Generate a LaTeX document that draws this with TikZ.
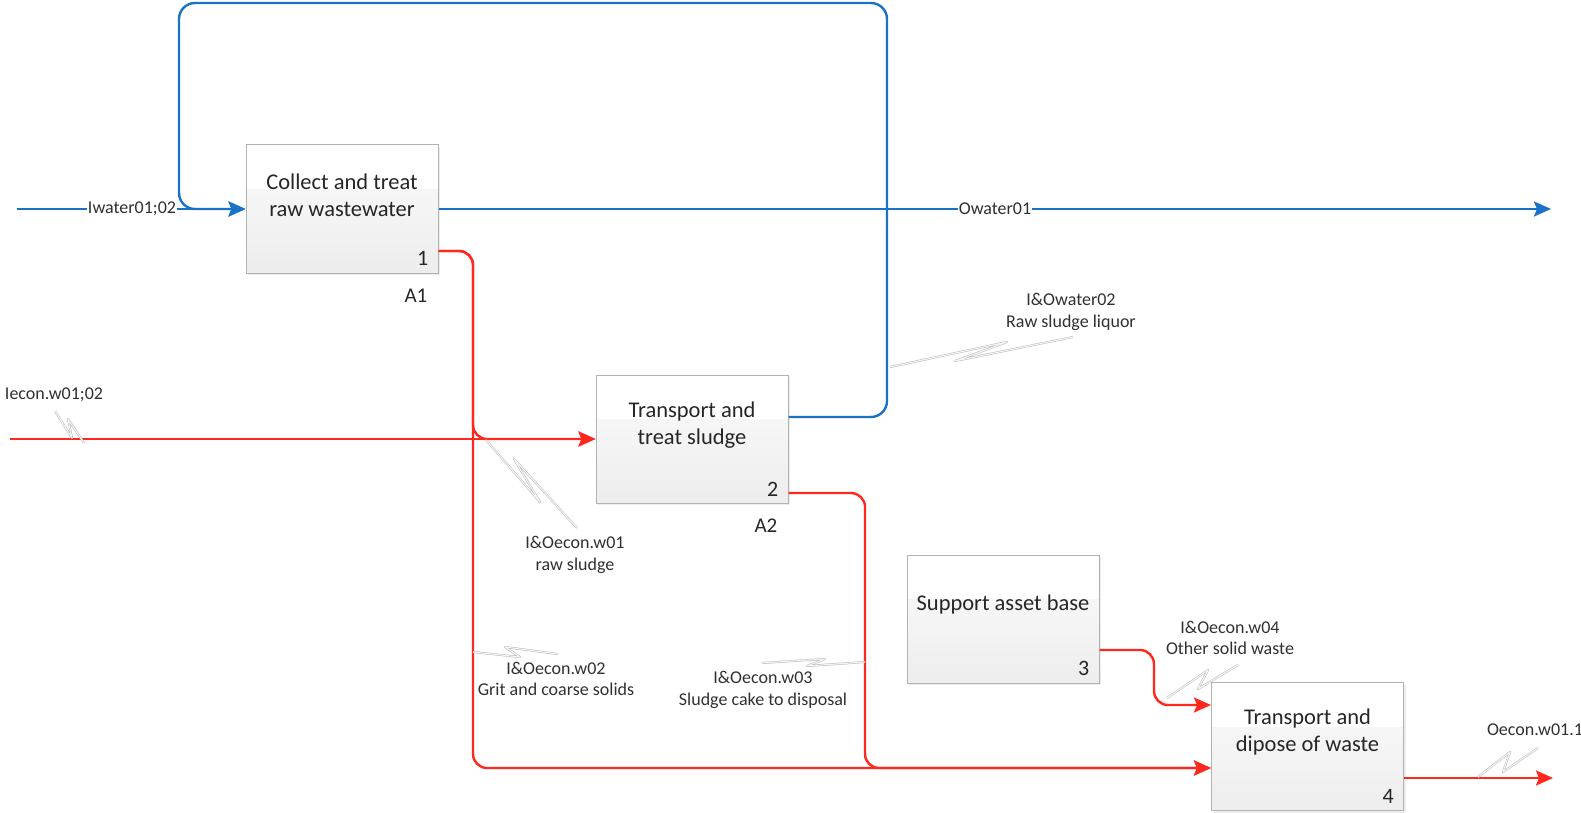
\documentclass[tikz,border=0pt]{standalone}
\usepackage{fontspec}
\setmainfont{Carlito}
\usetikzlibrary{arrows.meta,shadows}

\definecolor{waterblue}{RGB}{24,114,198}
\definecolor{econred}{RGB}{255,40,28}
\definecolor{textgray}{RGB}{48,48,48}

\tikzset{
  box/.style={draw=gray!60, line width=1pt, minimum width=192pt, minimum height=128pt,
    inner sep=0pt, top color=gray!3, bottom color=gray!14,
    drop shadow={opacity=0.15, shadow xshift=2pt, shadow yshift=-2pt},
    path picture={\fill[white] (path picture bounding box.north west)
      rectangle ([yshift=-44pt]path picture bounding box.north east);}},
  boxtext/.style={align=center, font=\fontsize{22.5}{27}\selectfont, text=black!85},
  boxnum/.style={anchor=base east, inner sep=0pt, font=\fontsize{22}{26}\selectfont, text=black!85},
  boxref/.style={anchor=base east, inner sep=0pt, font=\fontsize{21}{25}\selectfont, text=black!85},
  water/.style={draw=waterblue, line width=2.4pt, rounded corners=16pt},
  econ/.style={draw=econred, line width=2.4pt, rounded corners=14pt},
  tip/.style={-{Stealth[length=17pt,width=15pt,inset=3pt]}},
  flowlabel/.style={fill=white, inner sep=1pt, font=\fontsize{18}{21.5}\selectfont, text=textgray},
  squiglabel/.style={align=center, inner sep=0pt, font=\fontsize{18}{21.5}\selectfont, text=textgray},
  squiggle/.style={draw=gray!55, line width=0.5pt, double=gray!8, double distance=1.1pt, line join=round}
}

\begin{document}
\begin{tikzpicture}[x=1pt, y=-1pt]
  \useasboundingbox (0,0) rectangle (1581,813);

  % activity boxes
  \node[box] (b1) at (342,209) {};
  \node[box] (b2) at (692,439) {};
  \node[box] (b3) at (1003,619) {};
  \node[box] (b4) at (1307.5,746.5) {};

  \node[boxtext] (t1) at ([yshift=-51pt]b1.north) {Collect and treat\\raw wastewater};
  \node[boxtext] (t2) at ([yshift=-51pt]b2.north) {Transport and\\treat sludge};
  \node[boxtext] (t3) at ([yshift=-50pt]b3.north) {Support asset base};
  \node[boxtext] (t4) at ([yshift=-50pt]b4.north) {Transport and\\dipose of waste};

  \node[boxnum] (n1) at ([xshift=-10pt,yshift=8pt]b1.south east) {1};
  \node[boxnum] (n2) at ([xshift=-10pt,yshift=7pt]b2.south east) {2};
  \node[boxnum] (n3) at ([xshift=-10pt,yshift=8pt]b3.south east) {3};
  \node[boxnum] (n4) at ([xshift=-10pt,yshift=8pt]b4.south east) {4};

  \node[boxref] (a1) at ([xshift=-11pt,yshift=-29pt]b1.south east) {A1};
  \node[boxref] (a2) at ([xshift=-11pt,yshift=-29pt]b2.south east) {A2};

  % free ends
  \coordinate (win) at (17,209);
  \coordinate (wout) at (1551,209);
  \coordinate (ein) at (10,439);
  \coordinate (eout) at (1553,778);

  % water flows
  \draw[water, tip] (win) -- (b1.west);
  \draw[water, tip] ([yshift=22pt]b2.east) -- (887,417) -- (887,3) -- (179,3) -- (179,209) -- (b1.west);
  \draw[water, tip] (b1.east) -- (wout);

  % economic flows
  \draw[econ, tip] ([yshift=-42pt]b1.east) -- (473,251) -- (473,768) -- ([yshift=-21.5pt]b4.west);
  \draw[econ, tip] ([yshift=-42pt]b1.east) -- (473,251) -- (473,439) -- (b2.west);
  \draw[econ, tip] (ein) -- (b2.west);
  \draw[econ, tip] ([yshift=-54pt]b2.east) -- (865,493) -- (865,768) -- ([yshift=-21.5pt]b4.west);
  \draw[econ, tip] ([yshift=-31pt]b3.east) -- (1154,650) -- (1154,705) -- ([yshift=41.5pt]b4.west);
  \draw[econ, tip] ([yshift=-31.5pt]b4.east) -- (eout);

  % squiggles
  \draw[squiggle] (55,411) -- (72,438) -- (68,419) -- (84,443);
  \draw[squiggle] (486,440) -- (540,502) -- (514,459) -- (577,528);
  \draw[squiggle] (890,367) -- (1007,342) -- (955,361) -- (1073,337);
  \draw[squiggle] (473,652) -- (520,657) -- (505,647) -- (558,654);
  \draw[squiggle] (762,663) -- (825,659) -- (807,666) -- (865,662);
  \draw[squiggle] (1167,698) -- (1208,670) -- (1198,689) -- (1238,665);
  \draw[squiggle] (1478,777) -- (1510,752) -- (1503,772) -- (1538,748);

  % flow labels
  \node[flowlabel] (lw1) at (132,209) {Iwater01;02};
  \node[flowlabel] (lw2) at (995,209) {Owater01};
  \node[squiglabel] (le0) at (54,395) {Iecon.w01;02};
  \node[squiglabel] (lw3) at (1071,312) {I\&Owater02\\Raw sludge liquor};
  \node[squiglabel] (le1) at (575,555) {I\&Oecon.w01\\raw sludge};
  \node[squiglabel] (le2) at (556,679) {I\&Oecon.w02\\Grit and coarse solids};
  \node[squiglabel] (le3) at (763,690) {I\&Oecon.w03\\Sludge cake to disposal};
  \node[squiglabel] (le4) at (1230,638) {I\&Oecon.w04\\Other solid waste};
  \node[squiglabel] (le5) at (1535,730) {Oecon.w01.1};
\end{tikzpicture}
\end{document}
